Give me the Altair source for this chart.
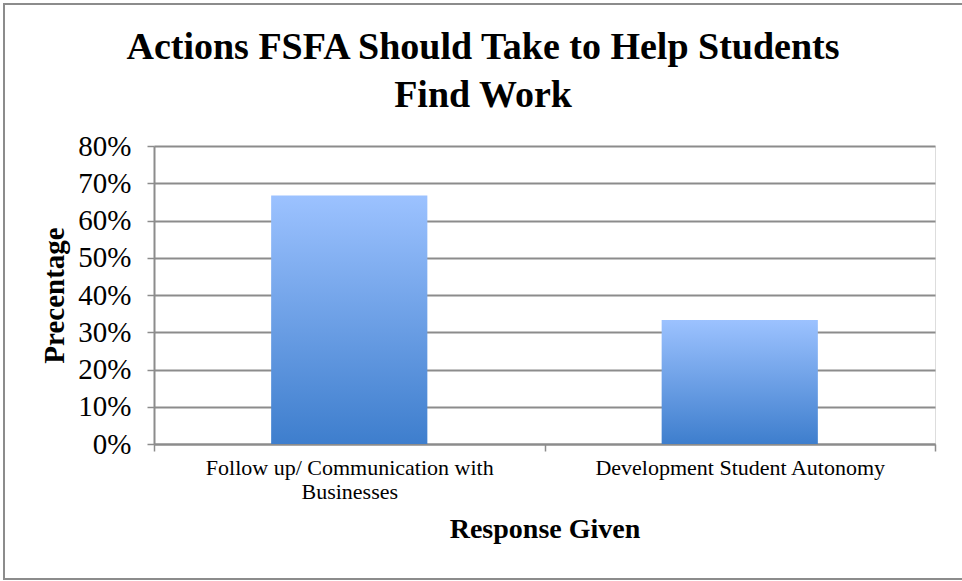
import altair as alt
import pandas as pd

categories = ["Follow up/ Communication with Businesses", "Development Student Autonomy"]
values = [0.667, 0.333]
y_ticks = [0, 0.1, 0.2, 0.3, 0.4, 0.5, 0.6, 0.7, 0.8]
title_lines = ["Actions FSFA Should Take to Help Students", "Find Work"]

df = pd.DataFrame({"Response": categories, "Value": values})

FONT = "Liberation Serif"
GRID = "#8c8c8c"

grad = alt.LinearGradient(
    gradient="linear",
    x1=0, y1=0, x2=0, y2=1,
    stops=[alt.GradientStop(color="#9cc2ff", offset=0),
           alt.GradientStop(color="#3e7ecd", offset=1)],
)

x_enc = alt.X(
    "Response:N",
    sort=categories,
    scale=alt.Scale(paddingInner=0, paddingOuter=0),
    axis=alt.Axis(
        title="Response Given",
        titleFont=FONT, titleFontSize=28, titleFontWeight="bold", titleColor="black",
        titlePadding=13,
        labelFont=FONT, labelFontSize=22, labelColor="black", labelAngle=0,
        labelPadding=6, labelLineHeight=24, labelLimit=500,
        labelExpr="datum.label == 'Follow up/ Communication with Businesses' ? ['Follow up/ Communication with', 'Businesses'] : datum.label",
        tickBand="extent", ticks=True, tickSize=7, tickColor=GRID, tickWidth=1.5,
        domainColor=GRID, domainWidth=2, grid=False,
    ),
)

y_enc = alt.Y(
    "Value:Q",
    scale=alt.Scale(domain=[0, 0.8], nice=False),
    axis=alt.Axis(
        values=y_ticks, format=".0%",
        title="Precentage",
        titleFont=FONT, titleFontSize=29, titleFontWeight="bold", titleColor="black",
        titlePadding=8,
        labelFont=FONT, labelFontSize=29, labelColor="black", labelPadding=16,
        tickSize=7, tickColor=GRID, tickWidth=1.5,
        domainColor=GRID, domainWidth=2,
        grid=True, gridColor=GRID, gridWidth=2,
    ),
)

bars = alt.Chart(df).mark_bar(color=grad, width=alt.RelativeBandSize(0.4)).encode(x=x_enc, y=y_enc)

border = alt.Chart(pd.DataFrame({"a": [0]})).mark_rect(
    fill=None, stroke="#8c8c8c", strokeWidth=2, clip=False
).encode(
    x=alt.value(-150), x2=alt.value(840), y=alt.value(-142), y2=alt.value(433)
)

title_df = pd.DataFrame({"line": title_lines, "row": [0, 1]})
title = alt.Chart(title_df).mark_text(
    font=FONT, fontSize=38, fontWeight="bold", color="black",
    align="center", baseline="middle", clip=False
).encode(
    text="line:N",
    x=alt.value(329),
    y=alt.Y("row:Q", scale=alt.Scale(domain=[0, 1], range=[-98, -50], nice=False, zero=False), axis=None),
)

chart = alt.layer(bars, border, title).resolve_scale(y="independent").properties(
    width=781, height=298,
    autosize=alt.AutoSizeParams(type="none"),
    padding={"left": 154, "top": 146, "right": 27, "bottom": 137},
).configure_view(stroke=None).configure(background="white")

chart.save("out.html", embed_options={"renderer": "svg", "actions": False})
